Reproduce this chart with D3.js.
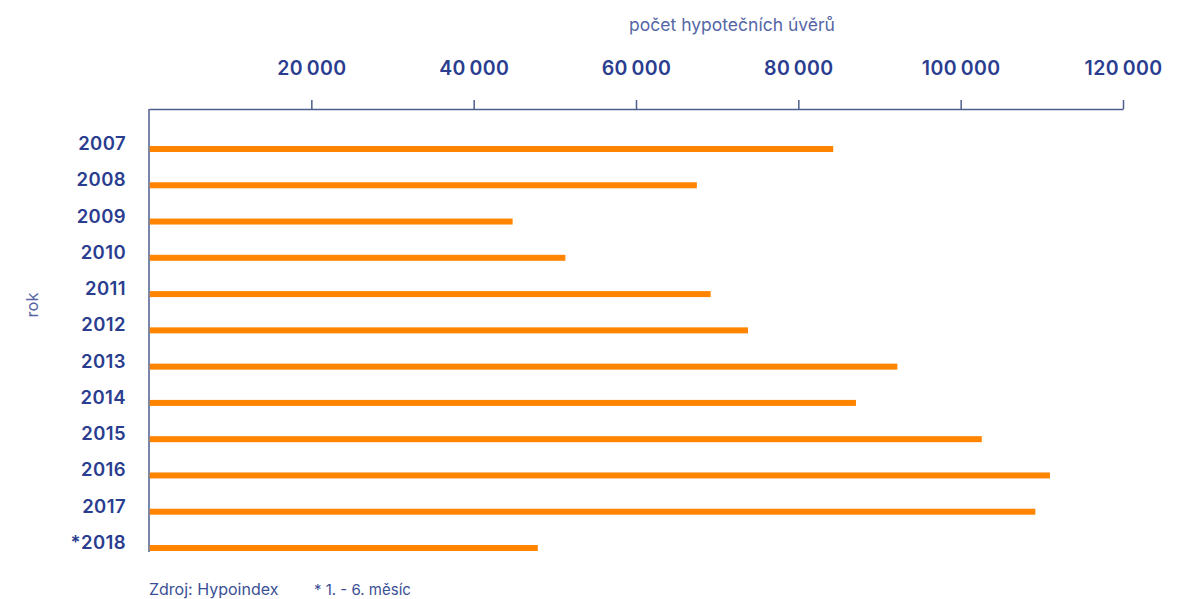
<!DOCTYPE html>
<html>
<head>
<meta charset="utf-8">
<script src="https://cdn.jsdelivr.net/npm/d3@7"></script>
<style>
  body { margin: 0; background: #fff; }
  text { font-family: Inter, "Noto Sans", sans-serif; }
</style>
</head>
<body>
<div id="chart"></div>
<script>
var svgWidth = 1182;
var svgHeight = 599;

// data
var years = ["2007", "2008", "2009", "2010", "2011", "2012", "2013", "2014", "2015", "2016", "2017", "*2018"];
var loans = [84300, 67500, 44800, 51300, 69200, 73800, 92200, 87100, 102600, 111000, 109200, 47900];
var xTicks = [20000, 40000, 60000, 80000, 100000, 120000];

var margin = { top: 109, left: 149, right: 59, bottom: 50 };

var svg = d3.select("#chart")
  .append("svg")
  .attr("width", svgWidth)
  .attr("height", svgHeight);

var xScale = d3.scaleLinear()
  .domain([0, 120000])
  .range([margin.left, 1123]);

var yScale = d3.scalePoint()
  .domain(years)
  .range([149, 548]);

var axisColor = "#4d5d8c";
var textColor = "#2a3d8f";

// top axis
var topAxis = d3.axisTop(xScale)
  .tickValues(xTicks)
  .tickSize(9)
  .tickSizeOuter(0)
  .tickPadding(25)
  .tickFormat(d => d3.format(",")(d).replace(/,/g, "\u2009"));

var xAxis = svg.append("g")
  .attr("transform", `translate(0, ${margin.top})`)
  .call(topAxis);

xAxis.select(".domain").attr("stroke", axisColor).attr("stroke-width", 1.5);
xAxis.selectAll(".tick line").attr("stroke", axisColor).attr("stroke-width", 1.5);
xAxis.selectAll(".tick text")
  .attr("fill", textColor)
  .attr("font-size", 19.5)
  .attr("font-weight", 600)
  .attr("letter-spacing", 0.4);

// left axis line
svg.append("line")
  .attr("x1", margin.left)
  .attr("x2", margin.left)
  .attr("y1", margin.top)
  .attr("y2", yScale("*2018") + 4)
  .attr("stroke", axisColor)
  .attr("stroke-width", 1.5);

// bars
svg.selectAll("rect.bar")
  .data(loans)
  .enter()
  .append("rect")
  .attr("class", "bar")
  .attr("x", xScale(0) + 0.75)
  .attr("y", (d, i) => yScale(years[i]) - 3)
  .attr("width", d => xScale(d) - xScale(0) - 0.75)
  .attr("height", 6)
  .attr("fill", "#ff8500");

// year labels
svg.selectAll("text.year")
  .data(years)
  .enter()
  .append("text")
  .attr("class", "year")
  .attr("x", 126)
  .attr("y", d => yScale(d) + 1)
  .attr("text-anchor", "end")
  .attr("fill", textColor)
  .attr("font-size", 18.5)
  .attr("font-weight", 600)
  .attr("letter-spacing", 0.4)
  .text(d => d);

// axis titles
svg.append("text")
  .attr("x", 732)
  .attr("y", 31)
  .attr("text-anchor", "middle")
  .attr("fill", "#5566a6")
  .attr("font-size", 17.5)
  .text("počet hypotečních úvěrů");

svg.append("text")
  .attr("transform", "translate(38, 305) rotate(-90)")
  .attr("text-anchor", "middle")
  .attr("fill", "#5566a6")
  .attr("font-size", 16.5)
  .text("rok");

// footer
svg.append("text")
  .attr("x", 149)
  .attr("y", 595)
  .attr("fill", "#3b4f95")
  .attr("font-size", 16)
  .text("Zdroj: Hypoindex");

svg.append("text")
  .attr("x", 314)
  .attr("y", 595)
  .attr("fill", "#3b4f95")
  .attr("font-size", 15)
  .text("* 1. - 6. měsíc");
</script>
</body>
</html>
